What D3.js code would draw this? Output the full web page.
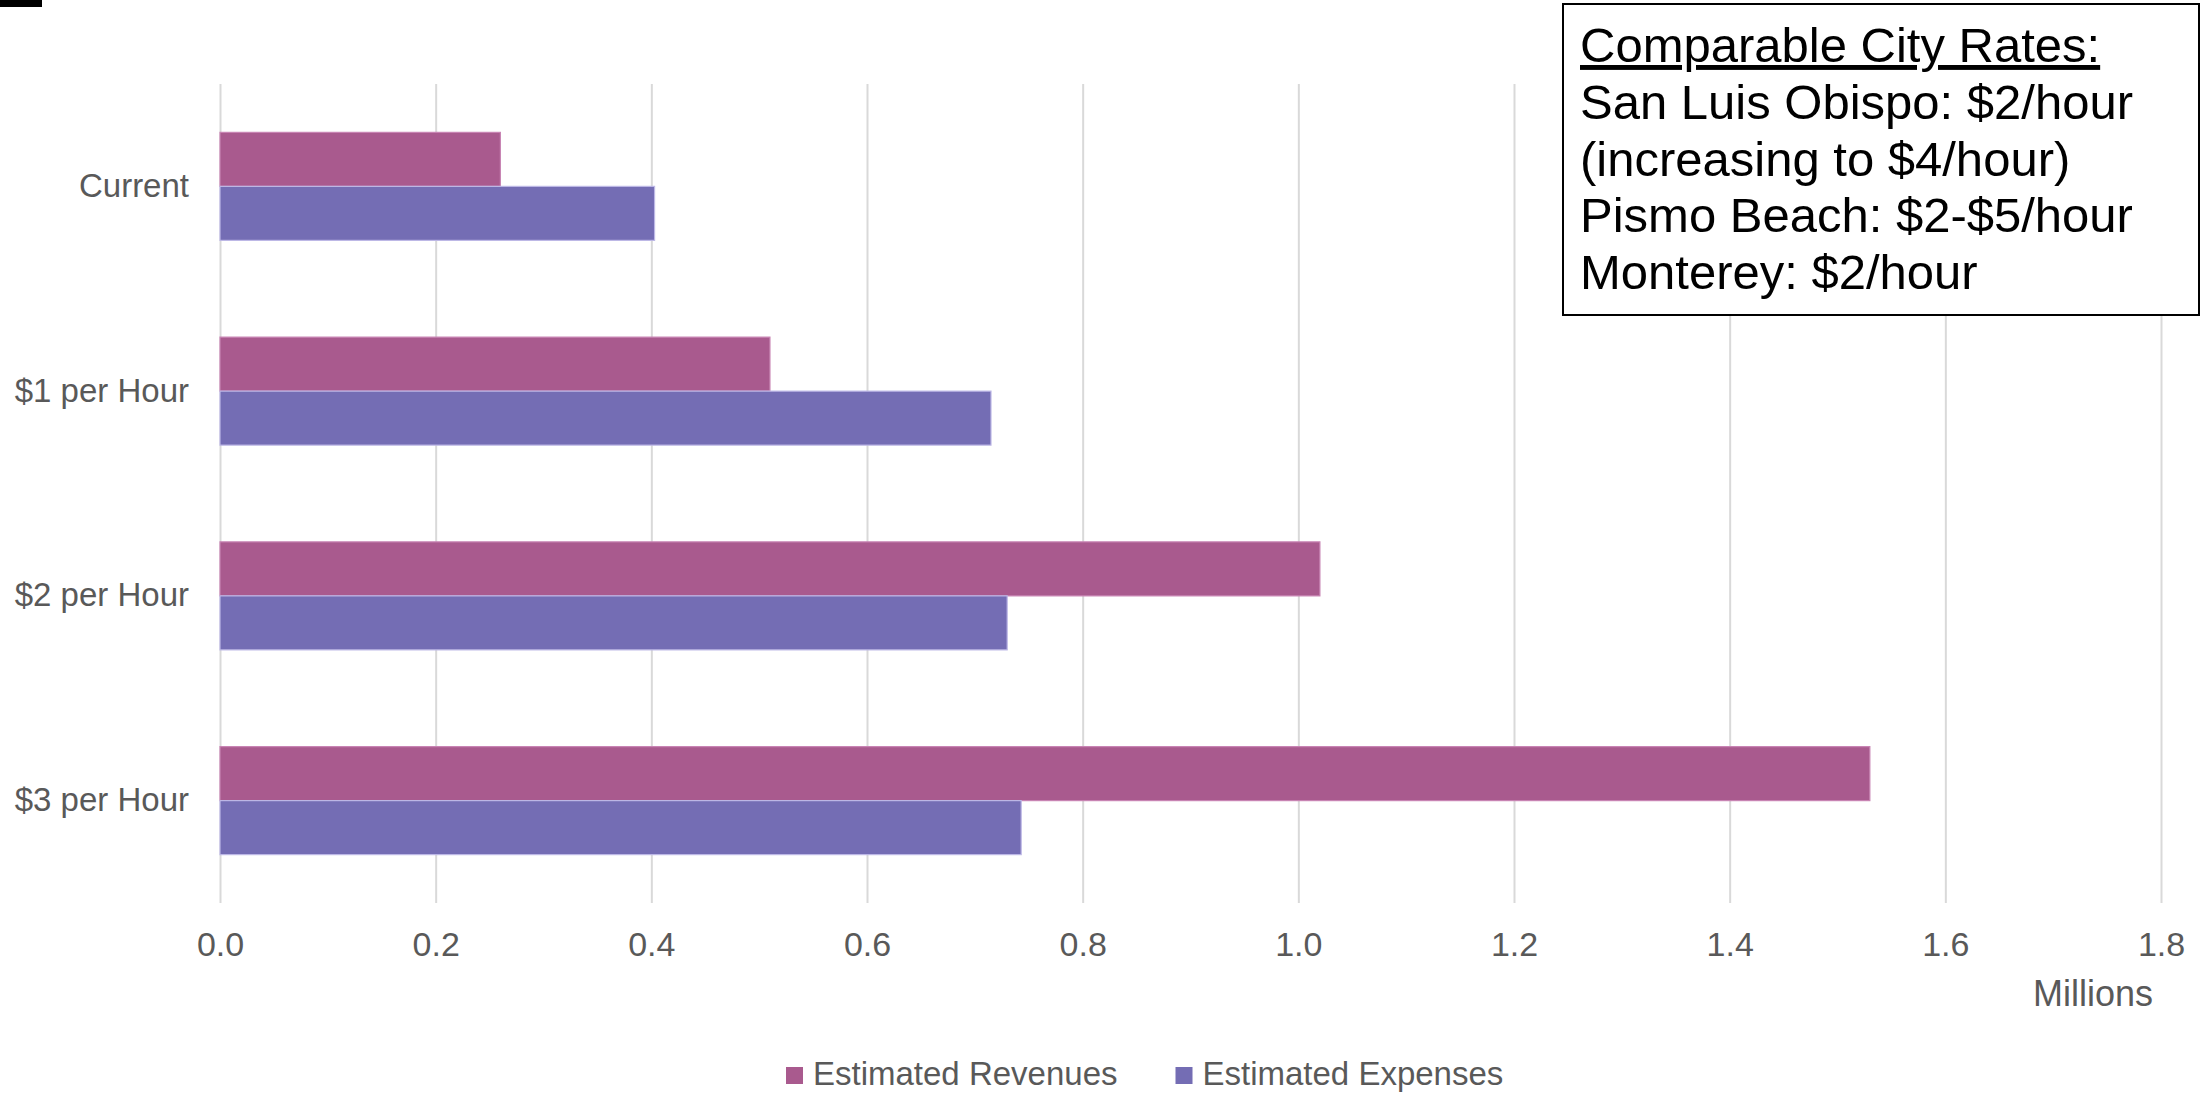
<html>
<head>
<title>Parking rates - revenues vs expenses</title>
<script src="https://d3js.org/d3.v7.min.js"></script>
<style>
body { margin: 0; background: #fff; font-family: 'Liberation Sans', Arial, sans-serif; }
svg { display: block; }
.axis text { fill: #595959; font-size: 34px; font-family: 'Liberation Sans', Arial, sans-serif; }
.yaxis text { font-size: 33px; }
.grid line { stroke: #d9d9d9; stroke-width: 2px; }
</style>
</head>
<body>
<div id="chart"></div>
<script>

// data
var categories = ["Current", "$1 per Hour", "$2 per Hour", "$3 per Hour"];
var seriesNames = ["Estimated Revenues", "Estimated Expenses"];
var revenues = [0.26, 0.51, 1.02, 1.53];   // millions
var expenses = [0.403, 0.715, 0.73, 0.743];
var xTicks = [0, 0.2, 0.4, 0.6, 0.8, 1.0, 1.2, 1.4, 1.6, 1.8];
var noteLines = ["Comparable City Rates:", "San Luis Obispo: $2/hour", "(increasing to $4/hour)",
  "Pismo Beach: $2-$5/hour", "Monterey: $2/hour"];

var colors = ["#a95a8e", "#746db4"];
var edgeColors = ["#c884b3", "#bdb8e6"];

var width = 2202, height = 1096;
// (window.top is read only, so plot edges get their own names)
var plotLeft = 220, plotRight = 2161, plotTop = 84, plotBottom = 903;

var svg = d3.select("#chart").append("svg").attr("width", width).attr("height", height);

// little black mark at the top left corner
svg.append("rect").attr("x", 0).attr("y", 0).attr("width", 42).attr("height", 7).attr("fill", "#000");

var xScale = d3.scaleLinear().domain([0, 1.8]).range([plotLeft, plotRight]);
var yScale = d3.scaleBand().domain(categories).range([plotTop, plotBottom])
  .paddingInner(0.4725).paddingOuter(0.23625);
var ySub = d3.scaleBand().domain(seriesNames).range([0, yScale.bandwidth()]);

// gridlines + tick labels
svg.append("g")
  .attr("class", "axis grid")
  .attr("transform", "translate(0," + plotBottom + ")")
  .call(d3.axisBottom(xScale).tickValues(xTicks).tickFormat(d3.format(".1f"))
    .tickSizeInner(-(plotBottom - plotTop)).tickSizeOuter(0).tickPadding(29))
  .call(g => g.select(".domain").remove());

// category labels
svg.append("g")
  .attr("class", "axis yaxis")
  .attr("transform", "translate(" + plotLeft + ",0)")
  .call(d3.axisLeft(yScale).tickSize(0).tickPadding(31))
  .call(g => g.select(".domain").remove());

// bars
var rows = categories.map((c, i) => ({cat: c, vals: [revenues[i], expenses[i]]}));
var groups = svg.selectAll(".grp").data(rows).enter().append("g")
  .attr("class", "grp")
  .attr("transform", d => "translate(0," + yScale(d.cat) + ")");

groups.selectAll("rect")
  .data(d => d.vals.map((v, j) => ({name: seriesNames[j], v: v, j: j})))
  .enter().append("rect")
  .attr("x", xScale(0))
  .attr("y", d => ySub(d.name))
  .attr("width", d => xScale(d.v) - xScale(0))
  .attr("height", ySub.bandwidth())
  .attr("fill", d => colors[d.j])
  .attr("stroke", d => edgeColors[d.j])
  .attr("stroke-width", 1.2);

// units label
svg.append("text")
  .attr("x", 2153).attr("y", 1006)
  .attr("text-anchor", "end")
  .style("font-size", "36px").style("fill", "#595959")
  .text("Millions");

// legend
var legend = svg.append("g").attr("transform", "translate(786,0)");
var lx = 0;
seriesNames.forEach(function(name, j) {
  legend.append("rect").attr("x", lx).attr("y", 1067).attr("width", 17).attr("height", 17)
    .attr("fill", colors[j]);
  var t = legend.append("text").attr("x", lx + 27).attr("y", 1085)
    .style("font-size", "33px").style("fill", "#595959")
    .text(name);
  lx = lx + 27 + t.node().getComputedTextLength() + 58;
});

// comparable city rates box
svg.append("rect")
  .attr("x", 1563).attr("y", 4).attr("width", 636).attr("height", 311)
  .attr("fill", "#fff").attr("stroke", "#000").attr("stroke-width", 2);

svg.selectAll(".note").data(noteLines).enter().append("text")
  .attr("class", "note")
  .attr("x", 1580)
  .attr("y", (d, i) => 62 + i * 56.8)
  .style("font-size", "49px").style("fill", "#000")
  .style("text-decoration", (d, i) => i == 0 ? "underline" : "none")
  .text(d => d);

</script>
</body>
</html>
